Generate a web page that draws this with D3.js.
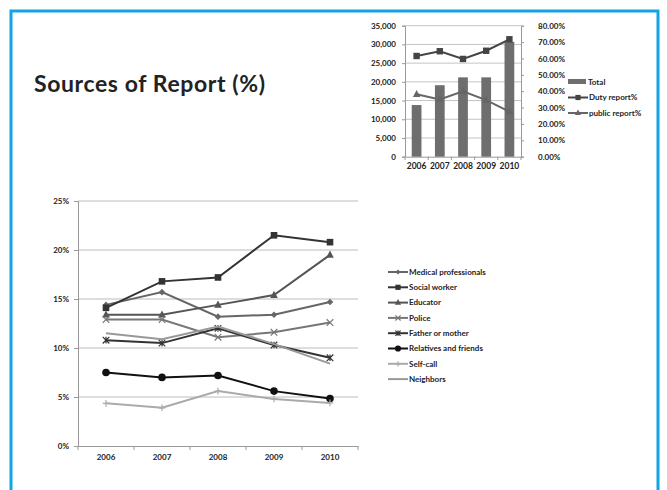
<!DOCTYPE html>
<html>
<head>
<meta charset="utf-8">
<script src="https://cdn.jsdelivr.net/npm/d3@7"></script>
<style>
  html, body { margin: 0; padding: 0; background: #fff; }
  svg { display: block; }
  text { font-family: Lato, "DejaVu Sans", sans-serif; font-weight: bold; fill: #222; }
</style>
</head>
<body>
<svg id="chart" width="667" height="490"></svg>
<script>
// ---- Data ----
const years = ["2006", "2007", "2008", "2009", "2010"];

// Share of reports by source (%)
const medicalProfessionals = [14.4, 15.7, 13.2, 13.4, 14.7];
const socialWorker        = [14.1, 16.8, 17.2, 21.5, 20.8];
const educator            = [13.4, 13.4, 14.4, 15.4, 19.5];
const police              = [12.9, 12.9, 11.1, 11.6, 12.6];
const fatherOrMother      = [10.8, 10.5, 12.0, 10.3, 9.0];
const relativesAndFriends = [7.5, 7.0, 7.2, 5.6, 4.85];
const selfCall            = [4.35, 3.9, 5.6, 4.8, 4.4];
const neighbors           = [11.5, 10.9, 12.2, 10.4, 8.4];

const sourceNames = ["Medical professionals", "Social worker", "Educator", "Police",
  "Father or mother", "Relatives and friends", "Self-call", "Neighbors"];
const pctTicks = [0, 5, 10, 15, 20, 25];

// Total reports and duty / public report shares
const totalReports  = [13800, 19100, 21200, 21200, 30700];
const dutyReport    = [61.5, 64.4, 59.7, 64.7, 71.7];
const publicReport  = [38.1, 35.0, 39.9, 34.6, 27.5];
const countTicks = [0, 5000, 10000, 15000, 20000, 25000, 30000, 35000];
const shareTicks = [0, 10, 20, 30, 40, 50, 60, 70, 80];
const comboNames = ["Total", "Duty report%", "public report%"];

const FONT = "Lato, 'DejaVu Sans', sans-serif";
const svg = d3.select("#chart");

// Blue slide frame
svg.append("path")
  .attr("d", "M11,492 V11 H658 V492")
  .attr("fill", "none")
  .attr("stroke", "#10a6e6")
  .attr("stroke-width", 3);

// Title
svg.append("text")
  .attr("x", 34).attr("y", 92)
  .attr("font-size", 23).attr("font-weight", "900")
  .attr("textLength", 231)
  .attr("fill", "#111")
  .text("Sources of Report (%)");

// ---- Main line chart ----
const styles = [
  { color: "#666", marker: "diamond" },
  { color: "#333", marker: "square" },
  { color: "#555", marker: "triangle" },
  { color: "#777", marker: "x" },
  { color: "#333", marker: "asterisk" },
  { color: "#111", marker: "circle" },
  { color: "#aaa", marker: "plus" },
  { color: "#999", marker: "none" }
];
const seriesData = [medicalProfessionals, socialWorker, educator, police,
  fatherOrMother, relativesAndFriends, selfCall, neighbors];

const x = d3.scaleBand().domain(years).range([78, 358]);
const y = d3.scaleLinear().domain([0, 25]).range([446, 201]);

const main = svg.append("g");

function styleAxisText(sel) {
  sel.selectAll("text").attr("font-size", 8).attr("font-family", FONT)
    .attr("font-weight", "bold").attr("fill", "#222");
}

// gridlines
main.append("g").selectAll("line").data(pctTicks.filter(d => d > 0)).join("line")
  .attr("x1", 78).attr("x2", 358)
  .attr("y1", d => y(d)).attr("y2", d => y(d))
  .attr("stroke", "#bcbcbc").attr("stroke-width", 1);

const yAxis = main.append("g").attr("transform", "translate(78,0)")
  .call(d3.axisLeft(y).tickValues(pctTicks).tickFormat(d => d + "%").tickSize(4).tickPadding(5));
yAxis.select(".domain").attr("stroke", "#999");
yAxis.selectAll(".tick line").attr("stroke", "#999");
styleAxisText(yAxis);

const xAxis = main.append("g").attr("transform", "translate(0,446)")
  .call(d3.axisBottom(x).tickSize(0).tickPadding(8));
xAxis.select(".domain").attr("stroke", "#999");
styleAxisText(xAxis);
// category boundary ticks
main.append("g").selectAll("line").data(d3.range(years.length + 1)).join("line")
  .attr("x1", i => 78 + i * x.step()).attr("x2", i => 78 + i * x.step())
  .attr("y1", 446).attr("y2", 450)
  .attr("stroke", "#999");

const cx = d => x(d) + x.bandwidth() / 2;

function drawMarker(g, type, px, py, color, s) {
  switch (type) {
    case "diamond":
      g.append("path").attr("d", `M${px},${py - s}L${px + s},${py}L${px},${py + s}L${px - s},${py}Z`).attr("fill", color);
      break;
    case "square":
      g.append("rect").attr("x", px - s).attr("y", py - s).attr("width", 2 * s).attr("height", 2 * s).attr("fill", color);
      break;
    case "triangle":
      g.append("path").attr("d", `M${px},${py - s - 1}L${px + s + 0.5},${py + s - 0.5}L${px - s - 0.5},${py + s - 0.5}Z`).attr("fill", color);
      break;
    case "x":
      g.append("path").attr("d", `M${px - s},${py - s}L${px + s},${py + s}M${px - s},${py + s}L${px + s},${py - s}`)
        .attr("stroke", color).attr("stroke-width", 1.2);
      break;
    case "asterisk":
      g.append("path").attr("d", `M${px - s},${py - s}L${px + s},${py + s}M${px - s},${py + s}L${px + s},${py - s}M${px},${py - s}L${px},${py + s}`)
        .attr("stroke", color).attr("stroke-width", 1.2);
      break;
    case "circle":
      g.append("circle").attr("cx", px).attr("cy", py).attr("r", s + 0.5).attr("fill", color);
      break;
    case "plus":
      g.append("path").attr("d", `M${px - s},${py}L${px + s},${py}M${px},${py - s}L${px},${py + s}`)
        .attr("stroke", color).attr("stroke-width", 1.2);
      break;
  }
}

const line = d3.line().x(d => cx(d.year)).y(d => y(d.value));
seriesData.forEach((vals, i) => {
  const pts = years.map((yr, j) => ({ year: yr, value: vals[j] }));
  const st = styles[i];
  const g = main.append("g");
  g.append("path").datum(pts).attr("d", line)
    .attr("fill", "none").attr("stroke", st.color).attr("stroke-width", 2);
  pts.forEach(p => drawMarker(g, st.marker, cx(p.year), y(p.value), st.color, 3.3));
});

// legend
const legend = svg.append("g");
sourceNames.forEach((name, i) => {
  const ly = 272 + i * 15.3;
  const st = styles[i];
  const g = legend.append("g");
  g.append("line").attr("x1", 388).attr("x2", 408).attr("y1", ly).attr("y2", ly)
    .attr("stroke", st.color).attr("stroke-width", 2);
  drawMarker(g, st.marker, 398, ly, st.color, 2.6);
  g.append("text").attr("x", 409).attr("y", ly).attr("dy", "0.35em")
    .attr("font-size", 8).text(name);
});

// ---- Top combo chart ----
const tx = d3.scaleBand().domain(years).range([405, 521]).paddingInner(0.58).paddingOuter(0.29);
const tyL = d3.scaleLinear().domain([0, 35000]).range([156.7, 25.7]);
const tyR = d3.scaleLinear().domain([0, 80]).range([156.7, 25.7]);
const combo = svg.append("g");

combo.append("g").selectAll("line").data(countTicks.filter(d => d > 0)).join("line")
  .attr("x1", 405).attr("x2", 521)
  .attr("y1", d => tyL(d)).attr("y2", d => tyL(d))
  .attr("stroke", "#c4c4c4");

const lAxis = combo.append("g").attr("transform", "translate(405,0)")
  .call(d3.axisLeft(tyL).tickValues(countTicks).tickFormat(d3.format(",")).tickSize(3).tickPadding(6));
lAxis.select(".domain").attr("stroke", "#999");
lAxis.selectAll(".tick line").attr("stroke", "#999");
styleAxisText(lAxis);

const rAxis = combo.append("g").attr("transform", "translate(521,0)")
  .call(d3.axisRight(tyR).tickValues(shareTicks).tickFormat(d => d.toFixed(2) + "%").tickSize(3).tickPadding(14));
rAxis.select(".domain").attr("stroke", "#999");
rAxis.selectAll(".tick line").attr("stroke", "#999");
styleAxisText(rAxis);

const bAxis = combo.append("g").attr("transform", "translate(0,156.7)")
  .call(d3.axisBottom(tx).tickSize(0).tickPadding(6));
bAxis.select(".domain").attr("stroke", "#999");
styleAxisText(bAxis);
bAxis.selectAll("text").attr("font-size", 8.5);
combo.append("g").selectAll("line").data(d3.range(years.length + 1)).join("line")
  .attr("x1", i => 405 + i * 23.2).attr("x2", i => 405 + i * 23.2)
  .attr("y1", 156.7).attr("y2", 160).attr("stroke", "#999");

combo.append("g").selectAll("rect").data(years.map((yr, i) => ({ year: yr, value: totalReports[i] }))).join("rect")
  .attr("x", d => tx(d.year)).attr("width", tx.bandwidth())
  .attr("y", d => tyL(d.value)).attr("height", d => tyL(0) - tyL(d.value))
  .attr("fill", "#6e6e6e");

const tcx = d => tx(d) + tx.bandwidth() / 2;
const tline = d3.line().x(d => tcx(d.year)).y(d => tyR(d.value));
[[dutyReport, "#444", "square"], [publicReport, "#666", "triangle"]].forEach(([vals, color, mk]) => {
  const pts = years.map((yr, j) => ({ year: yr, value: vals[j] }));
  const g = combo.append("g");
  g.append("path").datum(pts).attr("d", tline).attr("fill", "none")
    .attr("stroke", color).attr("stroke-width", 2);
  pts.forEach(p => drawMarker(g, mk, tcx(p.year), tyR(p.value), color, 3.2));
});

// combo legend
const tl = svg.append("g");
tl.append("rect").attr("x", 568).attr("y", 79).attr("width", 18).attr("height", 5).attr("fill", "#6e6e6e");
tl.append("text").attr("x", 588).attr("y", 82).attr("dy", "0.35em").attr("font-size", 8).text(comboNames[0]);
[[comboNames[1], "#444", "square", 97.5], [comboNames[2], "#666", "triangle", 113]].forEach(([name, color, mk, ly]) => {
  tl.append("line").attr("x1", 568).attr("x2", 588).attr("y1", ly).attr("y2", ly)
    .attr("stroke", color).attr("stroke-width", 2);
  drawMarker(tl, mk, 578, ly, color, 2.6);
  tl.append("text").attr("x", 589).attr("y", ly).attr("dy", "0.35em").attr("font-size", 8).text(name);
});
</script>
</body>
</html>
